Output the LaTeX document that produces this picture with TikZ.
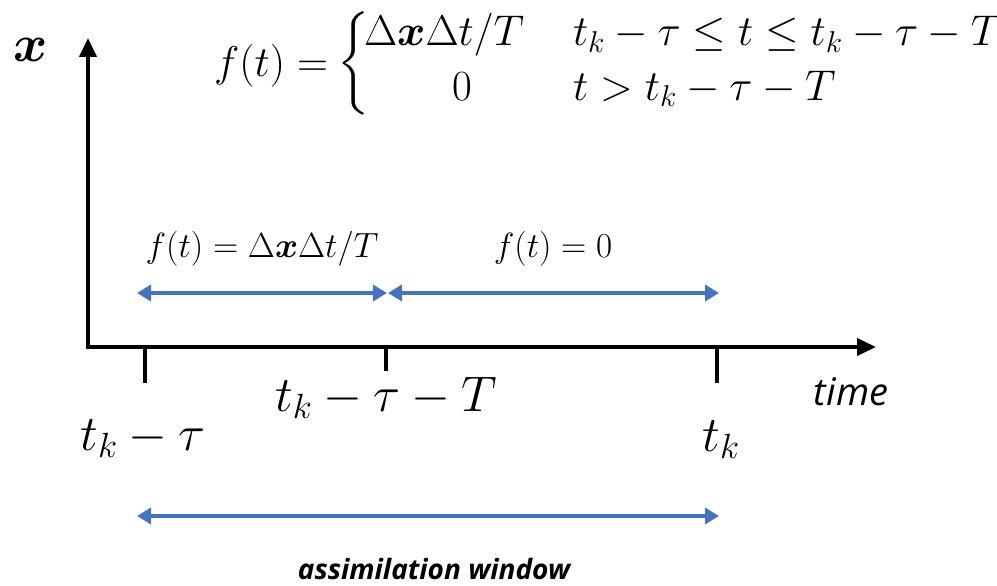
\RequirePackage{fix-cm}
\documentclass[tikz,border=0pt]{standalone}
\usepackage{amsmath,amssymb,bm}
\usepackage{fontspec}
\newfontfamily\labelfont{Open Sans}
\usetikzlibrary{arrows.meta}
\definecolor{arrowblue}{HTML}{4472C4}
\begin{document}
\begin{tikzpicture}[x=1pt,y=-1pt,
  axis/.style={line width=4pt,-{Triangle[length=19pt,width=17pt]}},
  tickline/.style={line width=4pt},
  span/.style={arrowblue,line width=4pt,{Triangle[length=14pt,width=16pt]}-{Triangle[length=14pt,width=16pt]}},
  txt/.style={inner sep=0pt,outer sep=0pt}]
\useasboundingbox (0,0) rectangle (997,586);
% axes
\coordinate (O) at (88,347);
\coordinate (Ytip) at (88,38);
\coordinate (Xtip) at (876,347);
\draw[axis] (O) ++(0,2) -- (Ytip);
\draw[axis] (O) ++(-2,0) -- (Xtip);
\node[txt,anchor=base] (xlab) at (31,62) {\fontsize{52}{60}\selectfont$\bm{x}$};
% ticks
\coordinate (t1a) at (145,347); \coordinate (t1b) at (145,383);
\coordinate (t2a) at (386,347); \coordinate (t2b) at (386,371);
\coordinate (t3a) at (717,347); \coordinate (t3b) at (717,383);
\draw[tickline] (t1a) -- (t1b);
\draw[tickline] (t2a) -- (t2b);
\draw[tickline] (t3a) -- (t3b);
% tick labels
\node[txt,anchor=base] (l1) at (143,450) {\fontsize{50}{60}\selectfont$t_k-\tau$};
\node[txt,anchor=base] (l2) at (386,411) {\fontsize{50}{60}\selectfont$t_k-\tau-T$};
\node[txt,anchor=base] (l3) at (721,451) {\fontsize{50}{60}\selectfont$t_k$};
\node[txt,anchor=base] (time) at (851,405) {\fontsize{38}{44}\selectfont\labelfont\itshape time};
% interval arrows
\coordinate (a1) at (137,293); \coordinate (a2) at (387,293);
\coordinate (b1) at (388,293); \coordinate (b2) at (719,293);
\draw[span] (a1) -- (a2);
\draw[span] (b1) -- (b2);
\node[txt,anchor=base] (fa) at (262,257) {\fontsize{35}{40}\selectfont$f(t)=\Delta\bm{x}\Delta t/T$};
\node[txt,anchor=base] (fb) at (553,257) {\fontsize{35}{40}\selectfont$f(t)=0$};
% assimilation window
\coordinate (w1) at (137,516); \coordinate (w2) at (719,516);
\draw[span] (w1) -- (w2);
\node[txt,anchor=base] (aw) at (434,579) {\fontsize{28}{32}\selectfont\labelfont\bfseries\itshape assimilation window};
% top definition
\node[txt,anchor=base east] (fdef) at (328,77) {\fontsize{43}{50}\selectfont$f(t)=$};
\node[txt] (br) at (354,63) {\fontsize{43}{50}\selectfont$\left\{\vrule height 32pt depth 32pt width 0pt\right.$};
\node[txt,anchor=base west] (r1) at (364,46) {\fontsize{43}{50}\selectfont$\Delta\bm{x}\Delta t/T$};
\node[txt,anchor=base] (r2) at (462,100) {\fontsize{43}{50}\selectfont$0$};
\node[txt,anchor=base west] (c1) at (573,46) {\fontsize{43}{50}\selectfont$t_k-\tau\le t\le t_k-\tau-T$};
\node[txt,anchor=base west] (c2) at (573,100) {\fontsize{43}{50}\selectfont$t>t_k-\tau-T$};
\end{tikzpicture}
\end{document}
